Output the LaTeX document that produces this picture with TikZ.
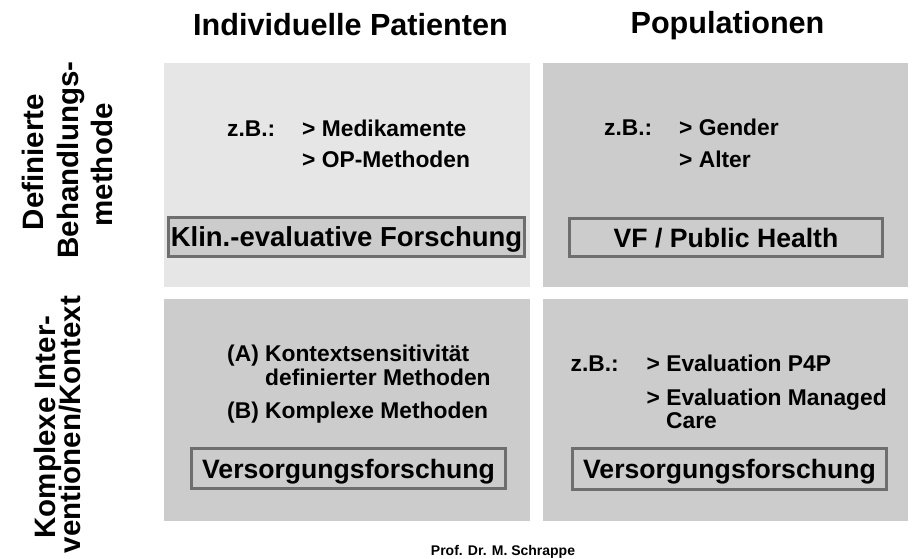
\documentclass[tikz,border=0pt]{standalone}
\usepackage{fontspec}
\setmainfont{Liberation Sans}

\definecolor{panelLight}{HTML}{E6E6E6}
\definecolor{panelDark}{HTML}{CCCCCC}
\definecolor{boxFill}{HTML}{CCCCCC}
\definecolor{boxBorder}{HTML}{6E6E6E}

\tikzset{
  panel/.style={inner sep=0pt, outer sep=0pt, draw=none},
  lightpanel/.style={panel, fill=panelLight},
  darkpanel/.style={panel, fill=panelDark},
  resbox/.style={draw=boxBorder, line width=3pt, fill=boxFill, inner sep=0pt,
    text height=19pt, text depth=0pt,
    font=\bfseries\fontsize{26.6}{30}\selectfont},
  body/.style={anchor=base west, inner sep=0pt,
    font=\bfseries\fontsize{22.8}{26}\selectfont},
  heading/.style={anchor=base, inner sep=0pt,
    font=\bfseries\fontsize{30.6}{34}\selectfont},
  sidelabel/.style={anchor=base, rotate=90, inner sep=0pt,
    font=\bfseries\fontsize{29.5}{34}\selectfont},
  footer/.style={anchor=base, inner sep=0pt,
    font=\bfseries\fontsize{14}{16}\selectfont},
}

\begin{document}
\begin{tikzpicture}[x=1pt, y=1pt]
  \useasboundingbox (0,0) rectangle (914,-558);

  % four quadrants
  \node[lightpanel, minimum width=366pt, minimum height=224pt] (tl) at (347,-175) {};
  \node[darkpanel,  minimum width=365pt, minimum height=224pt] (tr) at (725.5,-175) {};
  \node[darkpanel,  minimum width=366pt, minimum height=222pt] (bl) at (347,-410) {};
  \node[darkpanel,  minimum width=365pt, minimum height=222pt] (br) at (725.5,-410) {};

  % column headings
  \node[heading] (hInd) at (350.5,-35) {Individuelle Patienten};
  \node[heading] (hPop) at (727.5,-33) {Populationen};

  % row headings
  \node[sidelabel] (rowA1) at (43,-162) {Definierte};
  \node[sidelabel] (rowA2) at (78,-160) {Behandlungs-};
  \node[sidelabel] (rowA3) at (112,-165) {methode};
  \node[sidelabel] (rowB1) at (55,-427) {Komplexe Inter-};
  \node[sidelabel] (rowB2) at (80,-424.5) {ventionen/Kontext};

  % top left
  \node[body] (tlzb) at (227,-136) {z.B.:};
  \node[body] (tl1) at (302,-136) {> Medikamente};
  \node[body] (tl2) at (302,-167) {> OP-Methoden};
  \node[resbox, minimum width=356pt, minimum height=39pt, text height=19.7pt,
        font=\bfseries\fontsize{27.5}{30}\selectfont] (klin) at (346.5,-237) {Klin.-evaluative Forschung};

  % top right
  \node[body] (trzb) at (604,-135) {z.B.:};
  \node[body] (tr1) at (679,-135) {> Gender};
  \node[body] (tr2) at (679,-167) {> Alter};
  \node[resbox, minimum width=313pt, minimum height=38pt] (vf) at (726,-237.5) {VF / Public Health};

  % bottom left
  \node[body] (bl1) at (227,-361) {(A) Kontextsensitivität};
  \node[body] (bl2) at (265,-385) {definierter Methoden};
  \node[body] (bl3) at (227,-418) {(B) Komplexe Methoden};
  \node[resbox, minimum width=314pt, minimum height=40pt] (vfl) at (348.5,-468.5) {Versorgungsforschung};

  % bottom right
  \node[body] (brzb) at (570.5,-371.5) {z.B.:};
  \node[body] (br1) at (646.5,-371.5) {> Evaluation P4P};
  \node[body] (br2) at (646.5,-405) {> Evaluation Managed};
  \node[body] (br3) at (666,-428) {Care};
  \node[resbox, minimum width=314pt, minimum height=41pt] (vfr) at (729.5,-469) {Versorgungsforschung};

  % author line
  \node[footer] (author) at (503,-555) {Prof. Dr. M. Schrappe};
\end{tikzpicture}
\end{document}
